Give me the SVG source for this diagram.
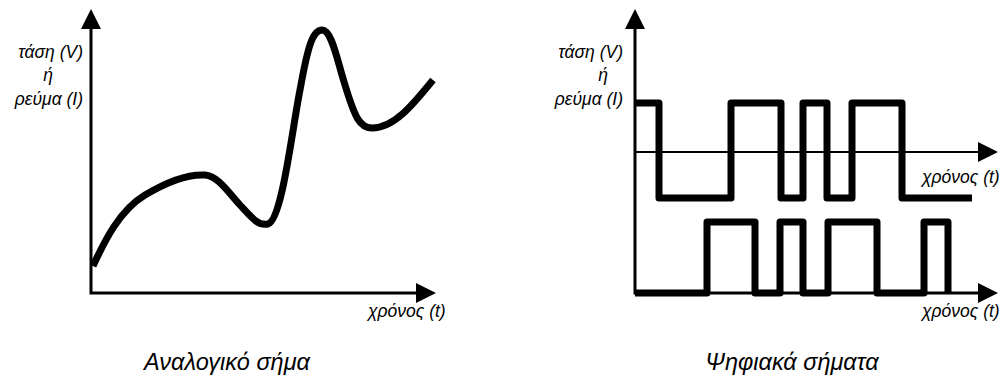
<svg xmlns="http://www.w3.org/2000/svg" width="1005" height="378" viewBox="0 0 1005 378">
<style>
.ax{stroke:#000;stroke-width:3;fill:none}
.axt{stroke:#000;stroke-width:2;fill:none}
.sig{stroke:#000;stroke-width:7;fill:none;stroke-linejoin:round;stroke-linecap:butt}
.hd{fill:#000}
text{font-family:"Liberation Sans","DejaVu Sans",sans-serif;font-style:italic;fill:#000}
.lb{font-size:17.5px}
.e{text-anchor:end}
.m{text-anchor:middle}
.cap{font-size:23.5px;text-anchor:middle}
</style>
<rect width="1005" height="378" fill="#fff"/>
<g id="analog">
<path class="ax" d="M91,28 V293 H418"/>
<polygon class="hd" points="91,9 81,29 101,29"/>
<polygon class="hd" points="436,293 416,283 416,303"/>
<path class="sig" d="M93,266 C105,240 120,210 145,195 C170,180 190,174 205,175 C218,176 228,192 240,205 C252,218 258,226 268,224 C282,220 292,130 300,90 C308,45 313,30 322,30 C332,30 337,60 345,85 C355,118 360,128 372,128 C395,128 415,102 433,80"/>
<text class="lb e" x="83" y="58">τάση (V)</text>
<text class="lb m" x="48" y="81">ή</text>
<text class="lb e" x="83" y="105">ρεύμα (I)</text>
<text class="lb" x="368" y="317">χρόνος (t)</text>
<text class="cap" x="227" y="370">Αναλογικό σήμα</text>
</g>
<g id="digital">
<path class="ax" d="M635,28 V293 H980"/>
<path class="axt" d="M635,152 H980"/>
<polygon class="hd" points="635,9 625,29 645,29"/>
<polygon class="hd" points="998,152 978,142 978,162"/>
<polygon class="hd" points="998,293 978,283 978,303"/>
<path class="sig" d="M635,103 H659 V198 H731 V103 H781 V198 H803 V103 H827 V198 H852 V103 H902 V198 H972"/>
<path class="sig" d="M635,293 H707 V222 H755 V293 H780 V222 H803 V293 H828 V222 H877 V293 H924 V222 H948 V293"/>
<text class="lb e" x="623" y="58">τάση (V)</text>
<text class="lb m" x="603" y="81">ή</text>
<text class="lb e" x="623" y="105">ρεύμα (I)</text>
<text class="lb" x="922" y="183">χρόνος (t)</text>
<text class="lb" x="922" y="317">χρόνος (t)</text>
<text class="cap" x="792" y="370">Ψηφιακά σήματα</text>
</g>
</svg>
